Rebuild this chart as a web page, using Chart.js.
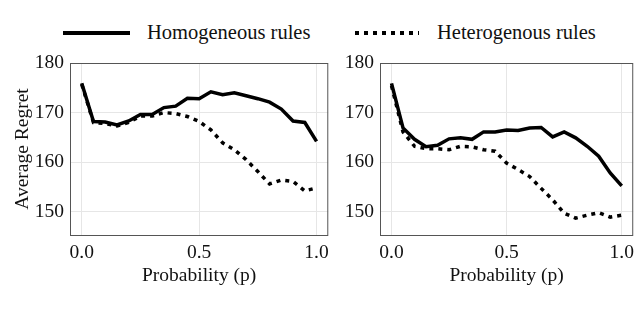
<!DOCTYPE html>
<html>
<head>
<meta charset="utf-8">
<script src="https://cdn.jsdelivr.net/npm/chart.js@4"></script>
<style>
  body { margin: 0; background: #fff; width: 640px; height: 318px; overflow: hidden; position: relative; font-family: "Liberation Serif", serif; }
  .box { position: absolute; }
  .leg { position: absolute; font-size: 20.5px; color: #111; top: 21px; white-space: nowrap; }
  .solid { position: absolute; top: 31px; height: 4px; background: #000; }
  .dots { position: absolute; top: 31px; height: 4px; background: repeating-linear-gradient(90deg, #000 0 4px, transparent 4px 9px); }
</style>
</head>
<body>
<div class="solid" style="left:63px;width:67px"></div>
<div class="leg" style="left:147px">Homogeneous rules</div>
<div class="dots" style="left:355px;width:64px"></div>
<div class="leg" style="left:437px">Heterogenous rules</div>

<div class="box" style="left:0;top:0"><canvas id="myChart1" width="335" height="300"></canvas></div>
<div class="box" style="left:320px;top:0"><canvas id="myChart2" width="320" height="300"></canvas></div>

<script>
// probability steps and regret curves
var probs = [0, 0.05, 0.1, 0.15, 0.2, 0.25, 0.3, 0.35, 0.4, 0.45, 0.5, 0.55, 0.6, 0.65, 0.7, 0.75, 0.8, 0.85, 0.9, 0.95, 1.0];
var homLeft = [175.9, 168.2, 168.1, 167.5, 168.3, 169.6, 169.6, 171.0, 171.3, 172.9, 172.8, 174.2, 173.6, 174.0, 173.4, 172.8, 172.1, 170.7, 168.3, 168.0, 164.2];
var hetLeft = [175.7, 168.0, 167.8, 167.3, 168.0, 169.3, 169.3, 170.0, 169.8, 169.2, 168.2, 166.5, 163.9, 162.5, 160.5, 158.1, 155.6, 156.4, 156.1, 154.2, 154.8];
var homRight = [175.9, 166.9, 164.6, 163.1, 163.4, 164.7, 164.9, 164.6, 166.1, 166.1, 166.5, 166.4, 166.9, 167.0, 165.1, 166.1, 164.9, 163.2, 161.2, 157.8, 155.2];
var hetRight = [175.4, 166.1, 163.2, 162.7, 162.7, 162.5, 163.2, 163.1, 162.5, 162.2, 159.8, 158.5, 157.1, 154.7, 152.4, 149.7, 148.7, 149.3, 149.8, 148.9, 149.3];
var xTicks = [0, 0.5, 1.0];
var yTicks = [150, 160, 170, 180];

var serif = { family: '"Liberation Serif", serif', size: 19.5 };

function pts(ys) {
    return probs.map(function (p, i) { return { x: p, y: ys[i] }; });
}

// matplotlib-like box round the plot area
var frame = {
    id: 'frame',
    afterDraw: function (chart) {
        var a = chart.chartArea, c = chart.ctx;
        c.save();
        c.strokeStyle = '#555';
        c.lineWidth = 1;
        c.strokeRect(a.left + 0.5, a.top + 0.5, a.right - a.left - 1, a.bottom - a.top);
        c.restore();
    }
};

function makeChart(id, hom, het, yWidth, padRight, showTitle) {
    var ctx = document.getElementById(id).getContext('2d');
    return new Chart(ctx, {
        type: 'line',
        data: {
            datasets: [{
                label: 'Homogeneous rules',
                data: pts(hom),
                borderColor: '#000',
                borderWidth: 3.5,
                pointRadius: 0,
                tension: 0
            }, {
                label: 'Heterogenous rules',
                data: pts(het),
                borderColor: '#000',
                borderWidth: 3.5,
                borderDash: [4, 5],
                borderCapStyle: 'butt',
                pointRadius: 0,
                tension: 0
            }]
        },
        options: {
            responsive: false,
            animation: false,
            layout: { padding: { top: 63, right: padRight, left: 0, bottom: 0 } },
            plugins: { legend: { display: false }, tooltip: { enabled: false } },
            scales: {
                x: {
                    type: 'linear',
                    min: -0.05,
                    max: 1.05,
                    afterBuildTicks: function (s) { s.ticks = xTicks.map(function (v) { return { value: v }; }); },
                    afterFit: function (s) { s.height = 65; },
                    ticks: {
                        color: '#111', font: serif, padding: 6, maxRotation: 0,
                        callback: function (v) { return v.toFixed(1); }
                    },
                    grid: { color: '#e6e6e6', drawTicks: false },
                    border: { display: false },
                    title: { display: true, text: 'Probability (p)', color: '#111', font: serif, padding: { top: 0, bottom: 12 } }
                },
                y: {
                    min: 145.3,
                    max: 180,
                    afterBuildTicks: function (s) { s.ticks = yTicks.map(function (v) { return { value: v }; }); },
                    afterFit: function (s) { s.width = yWidth; },
                    ticks: { color: '#111', font: serif, padding: 6 },
                    grid: { color: '#e6e6e6', drawTicks: false },
                    border: { display: false },
                    title: { display: showTitle, text: 'Average Regret', color: '#111', font: serif, padding: { top: 11, bottom: 0 } }
                }
            }
        },
        plugins: [frame]
    });
}

var myChart1 = makeChart('myChart1', homLeft, hetLeft, 70, 6, true);
var myChart2 = makeChart('myChart2', homRight, hetRight, 60, 2, false);
</script>
</body>
</html>
